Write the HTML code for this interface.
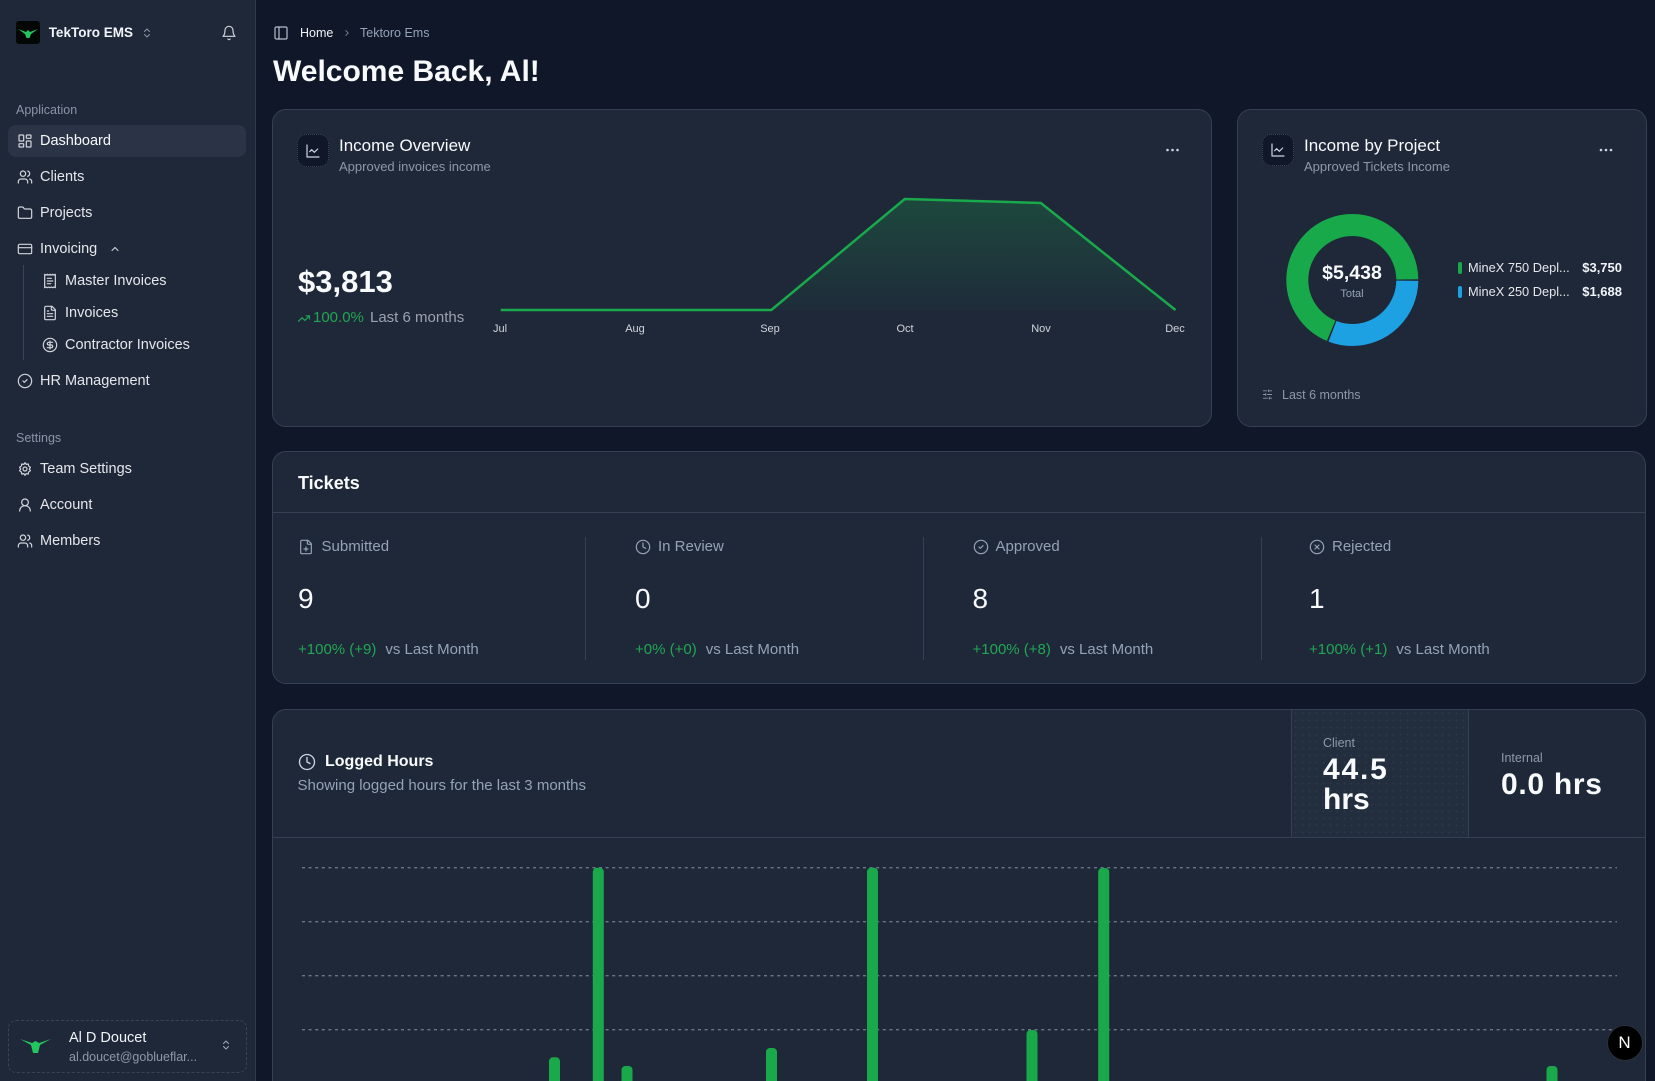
<!DOCTYPE html>
<html><head><meta charset="utf-8"><style>
*{box-sizing:border-box;margin:0;padding:0}
html,body{width:1655px;height:1081px;overflow:hidden;background:#0f1729;font-family:"Liberation Sans",Arial,sans-serif;color:#f1f5f9}
#wrap{position:relative;width:1655px;height:1081px;overflow:hidden;background:#0f1729}
.a{position:absolute;white-space:nowrap}
.side{position:absolute;left:0;top:0;width:256px;height:1081px;background:#1f2839;border-right:1px solid #303a4b}
.card{position:absolute;background:#1f2839;border:1px solid #354052;border-radius:14px}
.nav{font-size:14.5px;line-height:20px;color:#e5e7eb}
.ico{position:absolute;fill:none;stroke:#d1d5db;stroke-width:1.8;stroke-linecap:round;stroke-linejoin:round}
.lbl{font-size:12.5px;line-height:16px;color:#8b95a7}
.ibox{position:absolute;width:32px;height:33px;background:#0f1729;border:1px dotted #3b4556;border-radius:9px}
.ttl{font-size:17px;line-height:22px;color:#f8fafc}
.sub{font-size:13px;line-height:16px;color:#8e98a8}
.tl{font-size:15px;line-height:18px;color:#94a3b8}
.num{font-size:28px;line-height:32px;color:#f8fafc}
.dl{font-size:15px;line-height:18px;color:#21a653}
.dl span{color:#94a3b8;margin-left:9px}
.vdiv{position:absolute;width:1px;height:123px;top:537px;background:#354052}
</style></head><body><div id="wrap">

<!-- Sidebar -->
<div class="side"></div>
<div class="a" style="left:16px;top:21px;width:24px;height:23px;background:#030806;border-radius:3px">
<svg width="24" height="23" viewBox="0 0 24 23"><path d="M2 8 L10 11 L12 9 L14 11 L22 8 L15 13 L13.5 17 L10.5 17 L9 13 Z" fill="#22c55e"/></svg></div>
<div class="a" style="left:48.7px;top:23.3px;font-size:13.5px;line-height:20px;font-weight:bold;color:#f1f5f9">TekToro EMS</div>
<svg class="ico" style="left:141px;top:27px;stroke:#8b95a7;stroke-width:2" width="12" height="12" viewBox="0 0 24 24"><path d="m7 15 5 5 5-5"/><path d="m7 9 5-5 5 5"/></svg>
<svg class="ico" style="left:220.7px;top:25px" width="16" height="16" viewBox="0 0 24 24"><path d="M6 8a6 6 0 0 1 12 0c0 7 3 9 3 9H3s3-2 3-9"/><path d="M10.3 21a1.94 1.94 0 0 0 3.4 0"/></svg>

<div class="a lbl" style="left:16px;top:101.7px">Application</div>
<div class="a" style="left:8px;top:125px;width:238px;height:32px;background:#2b3446;border-radius:8px"></div>

<svg class="ico" style="left:17px;top:133px" width="16" height="16" viewBox="0 0 24 24"><rect x="3" y="3" width="7" height="9" rx="1"/><rect x="14" y="3" width="7" height="5" rx="1"/><rect x="14" y="12" width="7" height="9" rx="1"/><rect x="3" y="16" width="7" height="5" rx="1"/></svg>
<div class="a nav" style="left:40px;top:131px;color:#f8fafc">Dashboard</div>

<svg class="ico" style="left:17px;top:169px" width="16" height="16" viewBox="0 0 24 24"><path d="M16 21v-2a4 4 0 0 0-4-4H6a4 4 0 0 0-4 4v2"/><circle cx="9" cy="7" r="4"/><path d="M22 21v-2a4 4 0 0 0-3-3.87"/><path d="M16 3.13a4 4 0 0 1 0 7.75"/></svg>
<div class="a nav" style="left:40px;top:167px">Clients</div>

<svg class="ico" style="left:17px;top:205px" width="16" height="16" viewBox="0 0 24 24"><path d="M20 20a2 2 0 0 0 2-2V8a2 2 0 0 0-2-2h-7.9a2 2 0 0 1-1.69-.9L9.6 3.9A2 2 0 0 0 7.93 3H4a2 2 0 0 0-2 2v13a2 2 0 0 0 2 2Z"/></svg>
<div class="a nav" style="left:40px;top:203px">Projects</div>

<svg class="ico" style="left:17px;top:241px" width="16" height="16" viewBox="0 0 24 24"><rect width="20" height="14" x="2" y="5" rx="2"/><line x1="2" x2="22" y1="10" y2="10"/></svg>
<div class="a nav" style="left:40px;top:239px">Invoicing</div>
<svg class="ico" style="left:109px;top:243px;stroke-width:2.2" width="12" height="12" viewBox="0 0 24 24"><path d="m18 15-6-6-6 6"/></svg>

<div class="a" style="left:23px;top:265px;width:1px;height:95px;background:#3a4456"></div>
<svg class="ico" style="left:42px;top:273px" width="16" height="16" viewBox="0 0 24 24"><path d="M4 2v20l2-1 2 1 2-1 2 1 2-1 2 1 2-1 2 1V2l-2 1-2-1-2 1-2-1-2 1-2-1-2 1Z"/><path d="M14 8H8"/><path d="M16 12H8"/><path d="M13 16H8"/></svg>
<div class="a nav" style="left:65px;top:271px">Master Invoices</div>
<svg class="ico" style="left:42px;top:305px" width="16" height="16" viewBox="0 0 24 24"><path d="M15 2H6a2 2 0 0 0-2 2v16a2 2 0 0 0 2 2h12a2 2 0 0 0 2-2V7Z"/><path d="M14 2v4a2 2 0 0 0 2 2h4"/><path d="M10 9H8"/><path d="M16 13H8"/><path d="M16 17H8"/></svg>
<div class="a nav" style="left:65px;top:303px">Invoices</div>
<svg class="ico" style="left:42px;top:337px" width="16" height="16" viewBox="0 0 24 24"><circle cx="12" cy="12" r="10"/><path d="M16 8h-6a2 2 0 1 0 0 4h4a2 2 0 1 1 0 4H8"/><path d="M12 18V6"/></svg>
<div class="a nav" style="left:65px;top:335px">Contractor Invoices</div>

<svg class="ico" style="left:17px;top:373px" width="16" height="16" viewBox="0 0 24 24"><circle cx="12" cy="12" r="10"/><path d="m9 12 2 2 4-4"/></svg>
<div class="a nav" style="left:40px;top:371px">HR Management</div>

<div class="a lbl" style="left:16px;top:429.7px">Settings</div>
<svg class="ico" style="left:17px;top:461px" width="16" height="16" viewBox="0 0 24 24"><circle cx="12" cy="12" r="3"/><path d="M12 2.5l1.8 2.6 3.1-.6.6 3.1 2.6 1.8-1.6 2.6 1.6 2.6-2.6 1.8-.6 3.1-3.1-.6L12 21.5l-1.8-2.6-3.1.6-.6-3.1-2.6-1.8L5.5 12 3.9 9.4l2.6-1.8.6-3.1 3.1.6Z"/></svg>
<div class="a nav" style="left:40px;top:459px">Team Settings</div>
<svg class="ico" style="left:17px;top:496.7px" width="16" height="16" viewBox="0 0 24 24"><circle cx="12" cy="8" r="5"/><path d="M20 21a8 8 0 0 0-16 0"/></svg>
<div class="a nav" style="left:40px;top:494.7px">Account</div>
<svg class="ico" style="left:17px;top:533px" width="16" height="16" viewBox="0 0 24 24"><path d="M16 21v-2a4 4 0 0 0-4-4H6a4 4 0 0 0-4 4v2"/><circle cx="9" cy="7" r="4"/><path d="M22 21v-2a4 4 0 0 0-3-3.87"/><path d="M16 3.13a4 4 0 0 1 0 7.75"/></svg>
<div class="a nav" style="left:40px;top:531px">Members</div>

<div class="a" style="left:8px;top:1019.5px;width:239px;height:53px;border:1px dashed #394355;border-radius:8px"></div>
<svg class="a" style="left:19px;top:1034px" width="33" height="22" viewBox="0 0 33 22"><path d="M1 5 L13 9 L16.5 7 L20 9 L32 5 L21 11 L19 19 L14 19 L12 11 Z" fill="#22c55e"/></svg>
<div class="a" style="left:69px;top:1028px;font-size:14.5px;line-height:20px;color:#f1f5f9">Al D Doucet</div>
<div class="a" style="left:69px;top:1048.6px;font-size:12.5px;line-height:16px;color:#8e98a8">al.doucet@goblueflar...</div>
<svg class="ico" style="left:220px;top:1039px;stroke:#a3acb9;stroke-width:2" width="12" height="12" viewBox="0 0 24 24"><path d="m7 15 5 5 5-5"/><path d="m7 9 5-5 5 5"/></svg>

<!-- Header -->
<svg class="ico" style="left:273px;top:25px;stroke:#b8c0cc" width="16" height="16" viewBox="0 0 24 24"><rect width="18" height="18" x="3" y="3" rx="2"/><path d="M9 3v18"/></svg>
<div class="a" style="left:300px;top:25px;font-size:12.5px;line-height:16px;color:#f1f5f9">Home</div>
<svg class="ico" style="left:342px;top:28px;stroke:#8b95a7;stroke-width:2" width="10" height="10" viewBox="0 0 24 24"><path d="m9 18 6-6-6-6"/></svg>
<div class="a" style="left:360px;top:25px;font-size:12.5px;line-height:16px;color:#94a3b8">Tektoro Ems</div>
<div class="a" style="left:273px;top:53.6px;font-size:30px;line-height:36px;font-weight:bold;color:#f8fafc">Welcome Back, Al!</div>

<!-- Cards -->
<div class="card" style="left:272px;top:109px;width:940px;height:318px"></div>
<div class="card" style="left:1237px;top:109px;width:410px;height:318px"></div>
<div class="card" style="left:272px;top:451px;width:1374px;height:233px"></div>
<div class="card" style="left:272px;top:709px;width:1374px;height:400px"></div>

<!-- Income Overview -->
<div class="ibox" style="left:297px;top:134px"><svg class="ico" style="left:7px;top:8px;stroke:#cbd5e1" width="16" height="16" viewBox="0 0 24 24"><path d="M3 3v18h18"/><path d="m19 9-5 5-4-4-3 3"/></svg></div>
<div class="a ttl" style="left:339px;top:135px">Income Overview</div>
<div class="a sub" style="left:339px;top:158.7px">Approved invoices income</div>
<div class="a" style="left:298px;top:264px;font-size:31px;line-height:36px;font-weight:bold;color:#f8fafc">$3,813</div>
<svg class="ico" style="left:297px;top:312px;stroke:#21a653;stroke-width:2.2" width="14" height="13" viewBox="0 0 24 24"><polyline points="22 7 13.5 15.5 8.5 10.5 2 17"/><polyline points="16 7 22 7 22 13"/></svg>
<div class="a" style="left:313px;top:309.3px;font-size:15px;line-height:18px;color:#21a653">100.0%</div>
<div class="a" style="left:370px;top:309.3px;font-size:15px;line-height:18px;color:#9ca3af">Last 6 months</div>

<!-- Income by Project -->
<div class="ibox" style="left:1262px;top:134px;height:32px"><svg class="ico" style="left:7px;top:7px;stroke:#cbd5e1" width="16" height="16" viewBox="0 0 24 24"><path d="M3 3v18h18"/><path d="m19 9-5 5-4-4-3 3"/></svg></div>
<div class="a ttl" style="left:1304px;top:135px">Income by Project</div>
<div class="a sub" style="left:1304px;top:158.7px">Approved Tickets Income</div>
<div class="a" style="left:1302px;top:260.7px;width:100px;text-align:center;font-size:19.5px;line-height:24px;font-weight:bold;color:#f8fafc">$5,438</div>
<div class="a" style="left:1302px;top:287px;width:100px;text-align:center;font-size:11px;line-height:14px;color:#94a3b8">Total</div>
<div class="a" style="left:1458px;top:262px;width:3.5px;height:12px;border-radius:2px;background:#18a94a"></div>
<div class="a" style="left:1468px;top:260.3px;font-size:12.8px;line-height:16px;color:#e5e7eb">MineX 750 Depl...</div>
<div class="a" style="left:1562px;top:260.3px;width:60px;text-align:right;font-size:13px;line-height:16px;font-weight:bold;color:#f1f5f9">$3,750</div>
<div class="a" style="left:1458px;top:286px;width:3.5px;height:12px;border-radius:2px;background:#1da1e3"></div>
<div class="a" style="left:1468px;top:284.3px;font-size:12.8px;line-height:16px;color:#e5e7eb">MineX 250 Depl...</div>
<div class="a" style="left:1562px;top:284.3px;width:60px;text-align:right;font-size:13px;line-height:16px;font-weight:bold;color:#f1f5f9">$1,688</div>
<svg class="ico" style="left:1262px;top:389px;stroke:#8b95a7;stroke-width:2" width="11" height="11" viewBox="0 0 24 24"><line x1="21" x2="14" y1="4" y2="4"/><line x1="10" x2="3" y1="4" y2="4"/><line x1="21" x2="12" y1="12" y2="12"/><line x1="8" x2="3" y1="12" y2="12"/><line x1="21" x2="16" y1="20" y2="20"/><line x1="12" x2="3" y1="20" y2="20"/><line x1="14" x2="14" y1="2" y2="6"/><line x1="8" x2="8" y1="10" y2="14"/><line x1="16" x2="16" y1="18" y2="22"/></svg>
<div class="a" style="left:1282px;top:386.7px;font-size:12.5px;line-height:16px;color:#8e98a8">Last 6 months</div>

<!-- Tickets -->
<div class="a" style="left:298px;top:471.7px;font-size:18px;line-height:22px;font-weight:bold;color:#f8fafc">Tickets</div>
<div class="a" style="left:272px;top:512px;width:1374px;height:1px;background:#354052"></div>

<svg class="ico" style="left:298px;top:539px;stroke:#94a3b8" width="16" height="16" viewBox="0 0 24 24"><path d="M15 2H6a2 2 0 0 0-2 2v16a2 2 0 0 0 2 2h12a2 2 0 0 0 2-2V7Z"/><path d="M14 2v4a2 2 0 0 0 2 2h4"/><path d="M9 15h6"/><path d="M12 18v-6"/></svg>
<div class="a tl" style="left:321.5px;top:538px">Submitted</div>
<div class="a num" style="left:298px;top:583.3px">9</div>
<div class="a dl" style="left:298px;top:641px">+100% (+9)<span>vs Last Month</span></div>
<div class="vdiv" style="left:585px"></div>

<svg class="ico" style="left:635px;top:539px;stroke:#94a3b8" width="16" height="16" viewBox="0 0 24 24"><circle cx="12" cy="12" r="10"/><polyline points="12 6 12 12 16 14"/></svg>
<div class="a tl" style="left:658px;top:538px">In Review</div>
<div class="a num" style="left:635px;top:583.3px">0</div>
<div class="a dl" style="left:635px;top:641px">+0% (+0)<span>vs Last Month</span></div>
<div class="vdiv" style="left:923px"></div>

<svg class="ico" style="left:972.5px;top:539px;stroke:#94a3b8" width="16" height="16" viewBox="0 0 24 24"><circle cx="12" cy="12" r="10"/><path d="m9 12 2 2 4-4"/></svg>
<div class="a tl" style="left:995.5px;top:538px">Approved</div>
<div class="a num" style="left:972.5px;top:583.3px">8</div>
<div class="a dl" style="left:972.5px;top:641px">+100% (+8)<span>vs Last Month</span></div>
<div class="vdiv" style="left:1260.5px"></div>

<svg class="ico" style="left:1309px;top:539px;stroke:#94a3b8" width="16" height="16" viewBox="0 0 24 24"><circle cx="12" cy="12" r="10"/><path d="m15 9-6 6"/><path d="m9 9 6 6"/></svg>
<div class="a tl" style="left:1332px;top:538px">Rejected</div>
<div class="a num" style="left:1309px;top:583.3px">1</div>
<div class="a dl" style="left:1309px;top:641px">+100% (+1)<span>vs Last Month</span></div>

<!-- Logged Hours -->
<div class="a" style="left:1290.5px;top:710px;width:178px;height:127px;border-left:1px solid #354052;border-right:1px solid #354052;background:#222d3e radial-gradient(rgba(255,255,255,0.05) 0.8px, transparent 1.1px) 0 0/7px 7px"></div>
<div class="a" style="left:272px;top:837px;width:1374px;height:1px;background:#354052"></div>
<svg class="ico" style="left:298px;top:753.3px;stroke:#cbd5e1" width="18" height="18" viewBox="0 0 24 24"><circle cx="12" cy="12" r="10"/><polyline points="12 6 12 12 16 14"/></svg>
<div class="a" style="left:325px;top:752px;font-size:16px;line-height:20px;font-weight:bold;color:#f8fafc">Logged Hours</div>
<div class="a" style="left:297.5px;top:777px;font-size:15px;line-height:18px;color:#94a3b8">Showing logged hours for the last 3 months</div>
<div class="a" style="left:1323px;top:734.7px;font-size:12.5px;line-height:16px;color:#8e98a8">Client</div>
<div class="a" style="left:1323px;top:754.6px;font-size:30px;line-height:30px;font-weight:bold;color:#f8fafc;letter-spacing:1.8px">44.5</div>
<div class="a" style="left:1323px;top:784.6px;font-size:30px;line-height:30px;font-weight:bold;color:#f8fafc">hrs</div>
<div class="a" style="left:1501px;top:749.7px;font-size:12.5px;line-height:16px;color:#8e98a8">Internal</div>
<div class="a" style="left:1501px;top:769.6px;font-size:30px;line-height:30px;font-weight:bold;color:#f8fafc;letter-spacing:0.7px">0.0 hrs</div>

<!-- Charts -->
<svg class="a" style="left:0;top:0" width="1655" height="1081">
<defs><linearGradient id="g" x1="0" y1="0" x2="0" y2="1"><stop offset="0" stop-color="#16a34a" stop-opacity="0.26"/><stop offset="1" stop-color="#16a34a" stop-opacity="0.03"/></linearGradient></defs>
<polygon points="771.3,310 904.8,199 1040.8,203 1175.5,310" fill="url(#g)"/>
<polyline points="500.7,310 634.8,310 771.3,310 904.8,199 1040.8,203 1175.5,310" fill="none" stroke="#19a94b" stroke-width="2.5" stroke-linejoin="round"/>
<g font-family="Liberation Sans, Arial, sans-serif" font-size="11" fill="#d1d5db" text-anchor="middle">
<text x="500" y="332">Jul</text><text x="635" y="332">Aug</text><text x="770" y="332">Sep</text><text x="905" y="332">Oct</text><text x="1041" y="332">Nov</text><text x="1175" y="332">Dec</text>
</g>
<g fill="#cbd5e1"><circle cx="1167.5" cy="150" r="1.3"/><circle cx="1172.5" cy="150" r="1.3"/><circle cx="1177.5" cy="150" r="1.3"/>
<circle cx="1601" cy="150" r="1.3"/><circle cx="1606" cy="150" r="1.3"/><circle cx="1611" cy="150" r="1.3"/></g>
<circle cx="1352.3" cy="280" r="55" fill="none" stroke="#1da1e3" stroke-width="22" stroke-dasharray="105.8 400" stroke-dashoffset="-0.75"/>
<circle cx="1352.3" cy="280" r="55" fill="none" stroke="#18a94a" stroke-width="22" stroke-dasharray="236.5 400" stroke-dashoffset="-108.05"/>
<g stroke="#6b7585" stroke-width="1.4" stroke-dasharray="3 3.6">
<line x1="302" x2="1617" y1="867.7" y2="867.7"/><line x1="302" x2="1617" y1="921.7" y2="921.7"/><line x1="302" x2="1617" y1="975.7" y2="975.7"/><line x1="302" x2="1617" y1="1029.7" y2="1029.7"/>
</g>
<g fill="#19a94b">
<rect x="549" y="1057.3" width="11" height="60" rx="4"/>
<rect x="592.8" y="867.7" width="11" height="260" rx="4"/>
<rect x="621.5" y="1066" width="11" height="60" rx="4"/>
<rect x="766" y="1048" width="11" height="60" rx="4"/>
<rect x="867" y="867.7" width="11" height="260" rx="4"/>
<rect x="1026.5" y="1030" width="11" height="80" rx="4"/>
<rect x="1098.2" y="868" width="11" height="260" rx="4"/>
<rect x="1546.5" y="1066" width="11" height="60" rx="4"/>
</g>
</svg>

<div class="a" style="left:1606.5px;top:1024.7px;width:36px;height:36px;border-radius:50%;background:#000;border:1px solid #2a2f3a;text-align:center;font-size:17px;line-height:34px;color:#fff">N</div>

</div></body></html>
